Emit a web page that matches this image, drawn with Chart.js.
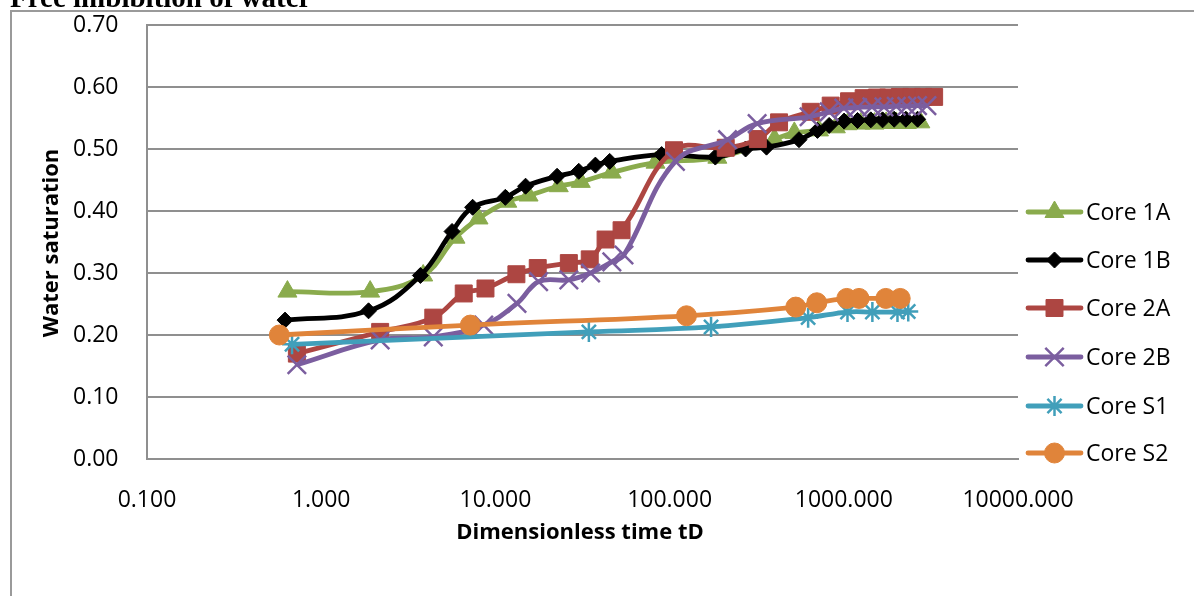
<!DOCTYPE html>
<html>
<head>
<meta charset="utf-8">
<title>Free imbibition of water</title>
<script src="https://cdn.jsdelivr.net/npm/chart.js@4.4.0/dist/chart.umd.min.js"></script>
<style>
  html, body { margin: 0; padding: 0; background: #fff; }
  #wrap { position: relative; width: 1194px; height: 596px; overflow: hidden; }
  canvas { display: block; }
</style>
</head>
<body>
<div id="wrap"><canvas id="chart" width="1194" height="596"></canvas></div>
<script>
// values (tD on log axis, water saturation)
var core1A_t  = [0.64, 1.91, 3.85, 5.9, 8.0, 11.7, 15.5, 23.1, 30.9, 46.5, 83, 188, 400, 520, 720, 900, 1050, 1250, 1500, 1750, 2000, 2300, 2750];
var core1A_sw = [0.270, 0.270, 0.296, 0.357, 0.388, 0.415, 0.425, 0.440, 0.447, 0.462, 0.478, 0.486, 0.516, 0.526, 0.530, 0.535, 0.540, 0.541, 0.541, 0.542, 0.542, 0.542, 0.543];

var core1B_t  = [0.62, 1.87, 3.71, 5.64, 7.4, 11.4, 14.9, 22.6, 30.1, 37.5, 45.3, 90, 183, 273, 360, 553, 706, 824, 1004, 1199, 1429, 1669, 1946, 2271, 2652];
var core1B_sw = [0.224, 0.239, 0.296, 0.367, 0.406, 0.422, 0.440, 0.456, 0.464, 0.474, 0.480, 0.491, 0.487, 0.500, 0.503, 0.515, 0.530, 0.538, 0.545, 0.546, 0.547, 0.547, 0.548, 0.548, 0.548];

var core2A_t  = [0.725, 2.18, 4.4, 6.58, 8.77, 13.2, 17.5, 26.4, 34.8, 42.9, 53, 106, 210, 321, 425, 646, 841, 1072, 1300, 1550, 1800, 2100, 2450, 2850, 3300];
var core2A_sw = [0.170, 0.205, 0.228, 0.267, 0.275, 0.298, 0.308, 0.316, 0.322, 0.354, 0.369, 0.498, 0.502, 0.516, 0.543, 0.560, 0.570, 0.577, 0.582, 0.583, 0.583, 0.584, 0.584, 0.584, 0.584];

var core2B_t  = [0.725, 2.18, 4.4, 8.57, 13.3, 17.7, 26.4, 35.2, 46.6, 54.7, 108, 215, 318, 632, 824, 1000, 1200, 1450, 1700, 2000, 2300, 2650, 3000];
var core2B_sw = [0.152, 0.192, 0.197, 0.216, 0.251, 0.286, 0.289, 0.300, 0.318, 0.329, 0.480, 0.515, 0.541, 0.552, 0.560, 0.566, 0.567, 0.568, 0.568, 0.569, 0.569, 0.570, 0.570];

var coreS1_t  = [0.68, 34.4, 173, 624, 1050, 1459, 2033, 2344];
var coreS1_sw = [0.185, 0.205, 0.213, 0.228, 0.237, 0.237, 0.237, 0.238];

var coreS2_t  = [0.575, 7.18, 125, 530, 700, 1040, 1223, 1742, 2108];
var coreS2_sw = [0.200, 0.216, 0.231, 0.245, 0.252, 0.259, 0.259, 0.259, 0.259];

var seriesNames = ["Core 1A", "Core 1B", "Core 2A", "Core 2B", "Core S1", "Core S2"];
var xTicks = [0.1, 1, 10, 100, 1000, 10000];
var yTicks = [0, 0.1, 0.2, 0.3, 0.4, 0.5, 0.6, 0.7];

var seriesT  = [core1A_t, core1B_t, core2A_t, core2B_t, coreS1_t, coreS2_t];
var seriesSw = [core1A_sw, core1B_sw, core2A_sw, core2B_sw, coreS1_sw, coreS2_sw];

var colors = ["#8aab4d", "#000000", "#ad4642", "#7b5e9f", "#419fba", "#e0843a"];
var markers = ["triangle", "rectRot", "rect", "crossRot", "star", "circle"];
var markerSize = [11, 8, 12, 13, 10, 10];
var markerBorder = [1, 1, 1, 2.5, 2.5, 1];

var gridColor = "#8f8f8f";
var fontFamily = "'Open Sans', 'DejaVu Sans', sans-serif";

function toPoints(t, sw) {
  var pts = [];
  for (var i = 0; i < t.length; i++) {
    pts.push({ x: t[i], y: sw[i] });
  }
  return pts;
}

var datasets = [];
for (var i = 0; i < seriesNames.length; i++) {
  datasets.push({
    label: seriesNames[i],
    data: toPoints(seriesT[i], seriesSw[i]),
    borderColor: colors[i],
    backgroundColor: colors[i],
    borderWidth: 4.8,
    tension: 0.4,
    pointStyle: markers[i],
    pointRadius: markerSize[i],
    pointHoverRadius: markerSize[i],
    pointBorderWidth: markerBorder[i],
    pointBorderColor: colors[i],
    pointBackgroundColor: colors[i],
    order: seriesNames.length - i
  });
}

// frame, title, axis titles and legend drawn on the canvas
var decor = {
  id: "decor",
  beforeDraw: function(chart) {
    var ctx = chart.ctx;
    ctx.save();
    ctx.strokeStyle = "#9a9a9a";
    ctx.lineWidth = 2;
    ctx.beginPath();
    ctx.moveTo(11, 600);
    ctx.lineTo(11, 11);
    ctx.lineTo(1200, 11);
    ctx.stroke();
    ctx.restore();
  },
  afterDraw: function(chart) {
    var ctx = chart.ctx;
    ctx.save();

    ctx.fillStyle = "#000";
    ctx.font = "bold 29px 'Liberation Serif', 'Times New Roman', serif";
    ctx.textAlign = "left";
    ctx.textBaseline = "alphabetic";
    ctx.fillText("Free imbibition of water", 10, 7);

    ctx.font = "bold 22px " + fontFamily;
    ctx.textAlign = "center";
    ctx.textBaseline = "middle";
    ctx.fillText("Dimensionless time tD", 580, 533);

    ctx.save();
    ctx.translate(52, 243);
    ctx.rotate(-Math.PI / 2);
    ctx.fillText("Water saturation", 0, 0);
    ctx.restore();

    // legend
    var legendY = [212, 260, 308, 357, 406, 453];
    for (var i = 0; i < datasets.length; i++) {
      var y = legendY[i];
      ctx.strokeStyle = colors[i];
      ctx.lineWidth = 4.8;
      ctx.lineCap = "round";
      ctx.beginPath();
      ctx.moveTo(1028, y);
      ctx.lineTo(1081, y);
      ctx.stroke();
      ctx.lineCap = "butt";
      ctx.fillStyle = colors[i];
      ctx.strokeStyle = colors[i];
      ctx.lineWidth = markerBorder[i];
      Chart.helpers.drawPoint(ctx, {
        pointStyle: markers[i],
        radius: markerSize[i],
        borderWidth: markerBorder[i],
        rotation: 0
      }, 1054.5, y);
      ctx.fillStyle = "#000";
      ctx.font = "23px " + fontFamily;
      ctx.textAlign = "left";
      ctx.textBaseline = "middle";
      ctx.fillText(seriesNames[i], 1086, y + 1);
    }
    ctx.restore();
  }
};

Chart.defaults.font.family = fontFamily;
Chart.defaults.font.size = 23;
Chart.defaults.color = "#000";

new Chart(document.getElementById("chart"), {
  type: "line",
  data: { datasets: datasets },
  plugins: [decor],
  options: {
    responsive: false,
    animation: false,
    devicePixelRatio: 1,
    layout: { padding: { left: 73, right: 176, top: 25, bottom: 0 } },
    plugins: {
      legend: { display: false },
      tooltip: { enabled: false }
    },
    scales: {
      x: {
        type: "logarithmic",
        min: 0.1,
        max: 10000,
        afterBuildTicks: function(scale) {
          scale.ticks = xTicks.map(function(v) { return { value: v }; });
        },
        afterFit: function(scale) { scale.height = 137; },
        ticks: {
          autoSkip: false,
          maxRotation: 0,
          padding: 20,
          callback: function(v) { return Number(v).toFixed(3); }
        },
        grid: { display: false },
        border: { display: true, color: gridColor, width: 2 }
      },
      y: {
        type: "linear",
        min: 0,
        max: 0.7,
        afterBuildTicks: function(scale) {
          scale.ticks = yTicks.map(function(v) { return { value: v }; });
        },
        afterFit: function(scale) { scale.width = 74; },
        ticks: {
          padding: 8,
          crossAlign: "far",
          callback: function(v) { return Number(v).toFixed(2); }
        },
        grid: { color: gridColor, lineWidth: 2, drawTicks: false },
        border: { display: true, color: gridColor, width: 2 }
      }
    }
  }
});
</script>
</body>
</html>
